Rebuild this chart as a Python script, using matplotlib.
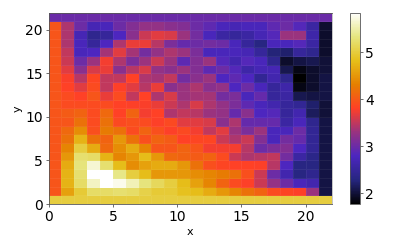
import matplotlib
matplotlib.use("Agg")
import matplotlib.pyplot as plt
import numpy as np

x_edges = list(range(23))
y_edges = list(range(23))

# one list per row of cells, y=0 row first
row_00 = [5.0, 5.0, 5.0, 5.0, 5.0, 5.0, 5.0, 5.0, 5.0, 5.0, 5.0, 5.0, 5.0, 5.0, 5.0, 5.0, 5.0, 5.0, 5.0, 5.0, 5.0, 5.0]
row_01 = [3.97, 4.57, 4.95, 5.2, 5.2, 5.25, 5.2, 5.05, 4.95, 4.95, 4.85, 4.8, 4.65, 4.5, 4.35, 4.2, 4.08, 3.9, 3.85, 3.8, 3.3, 2.05]
row_02 = [3.97, 4.72, 5.2, 5.6, 5.84, 5.75, 5.55, 5.3, 5.15, 5.0, 4.8, 4.57, 4.35, 4.08, 3.9, 3.8, 3.55, 3.25, 3.0, 2.75, 2.65, 2.05]
row_03 = [3.97, 4.72, 5.25, 5.84, 5.84, 5.35, 5.0, 4.8, 4.5, 4.5, 4.5, 4.42, 4.35, 4.27, 4.2, 3.93, 3.55, 3.0, 2.65, 2.3, 2.4, 2.05]
row_04 = [3.97, 4.65, 5.3, 5.65, 5.25, 4.8, 4.42, 4.57, 4.65, 4.65, 4.5, 4.2, 3.93, 3.85, 3.82, 3.82, 3.8, 3.45, 2.8, 2.3, 2.3, 2.05]
row_05 = [3.97, 4.5, 5.25, 5.2, 4.72, 4.35, 4.5, 4.8, 4.5, 4.13, 4.08, 4.02, 4.08, 3.9, 3.55, 3.4, 3.45, 3.5, 3.05, 2.55, 2.35, 2.05]
row_06 = [3.97, 4.35, 5.0, 4.65, 4.13, 4.42, 4.65, 4.35, 3.97, 3.97, 4.08, 3.97, 3.75, 3.75, 3.75, 3.45, 3.0, 3.1, 3.15, 2.8, 2.45, 2.05]
row_07 = [3.97, 4.2, 4.72, 4.2, 4.08, 4.5, 4.2, 3.93, 4.08, 4.02, 3.82, 3.85, 3.85, 3.55, 3.4, 3.55, 3.15, 2.75, 3.05, 2.95, 2.45, 2.05]
row_08 = [3.97, 4.13, 4.42, 3.93, 4.27, 4.2, 3.9, 4.08, 3.93, 3.8, 3.88, 3.75, 3.5, 3.65, 3.3, 3.1, 3.3, 2.75, 2.75, 3.0, 2.45, 2.05]
row_09 = [3.97, 3.97, 4.2, 3.9, 4.2, 3.88, 3.93, 3.9, 3.8, 3.88, 3.65, 3.65, 3.6, 3.2, 3.4, 2.95, 2.95, 2.95, 2.55, 2.75, 2.4, 2.05]
row_10 = [3.97, 4.02, 4.08, 3.9, 4.13, 3.82, 4.08, 3.75, 3.82, 3.4, 3.5, 3.45, 3.3, 3.25, 2.95, 3.2, 2.8, 2.85, 2.5, 2.65, 2.15, 2.0]
row_11 = [3.97, 3.9, 3.9, 3.9, 3.9, 3.82, 3.8, 3.78, 3.7, 3.55, 3.4, 3.6, 3.4, 3.25, 3.1, 2.9, 2.75, 2.65, 2.5, 2.45, 2.2, 2.0]
row_12 = [3.97, 3.9, 3.82, 3.97, 3.7, 3.9, 3.5, 3.82, 3.4, 3.6, 3.3, 3.35, 3.35, 3.05, 3.1, 2.75, 2.95, 2.5, 2.55, 2.1, 2.05, 2.05]
row_13 = [3.97, 3.82, 3.65, 3.9, 3.5, 3.8, 3.65, 3.45, 3.7, 3.2, 3.3, 3.4, 3.2, 3.25, 2.8, 3.0, 2.75, 2.5, 2.6, 1.85, 1.95, 2.05]
row_14 = [3.97, 3.78, 3.45, 3.85, 3.5, 3.5, 3.82, 3.4, 3.35, 3.5, 3.05, 3.2, 3.3, 2.8, 2.9, 2.8, 2.45, 2.65, 2.4, 1.78, 1.95, 2.05]
row_15 = [3.97, 3.65, 3.2, 3.6, 3.7, 3.2, 3.45, 3.6, 3.25, 3.2, 3.3, 3.15, 2.9, 3.0, 2.85, 2.6, 2.7, 2.7, 2.1, 1.85, 1.95, 2.0]
row_16 = [3.97, 3.55, 3.0, 3.3, 3.75, 3.4, 3.1, 3.3, 3.55, 3.3, 2.9, 3.15, 3.3, 2.85, 2.65, 2.85, 2.75, 2.4, 1.95, 2.05, 2.1, 2.0]
row_17 = [3.97, 3.5, 2.75, 2.8, 3.35, 3.65, 3.35, 3.05, 3.25, 3.4, 3.3, 3.1, 2.75, 2.75, 2.75, 2.7, 2.5, 2.25, 2.2, 2.5, 2.4, 1.95]
row_18 = [3.97, 3.4, 2.75, 2.5, 2.8, 3.4, 3.7, 3.7, 3.45, 3.1, 2.95, 3.0, 3.05, 3.0, 2.75, 2.5, 2.3, 2.75, 2.75, 2.85, 2.55, 1.95]
row_19 = [3.97, 3.4, 2.7, 2.4, 2.5, 2.8, 3.2, 3.55, 3.65, 3.6, 3.3, 3.05, 2.75, 2.55, 2.5, 2.55, 2.7, 2.85, 3.3, 3.3, 2.6, 1.95]
row_20 = [3.97, 3.4, 3.0, 2.7, 2.75, 3.0, 3.15, 3.25, 3.25, 3.2, 3.15, 3.0, 2.9, 2.75, 2.7, 2.75, 2.75, 2.9, 3.0, 2.85, 2.55, 1.97]
row_21 = [2.98, 2.98, 2.98, 2.98, 2.98, 2.98, 2.98, 2.98, 2.98, 2.98, 2.98, 2.98, 2.98, 2.98, 2.98, 2.98, 2.98, 2.98, 2.98, 2.98, 2.98, 2.98]

field = np.array([row_00, row_01, row_02, row_03, row_04, row_05, row_06, row_07, row_08, row_09, row_10,
                  row_11, row_12, row_13, row_14, row_15, row_16, row_17, row_18, row_19, row_20, row_21])

fig = plt.figure(figsize=(4.15, 2.49), dpi=100)
ax = fig.add_axes([48.5 / 415, 1 - 204 / 249, (331.5 - 48.5) / 415, (204 - 12.5) / 249])
cax = fig.add_axes([349.5 / 415, 1 - 204 / 249, 10 / 415, (204 - 12.5) / 249])

mesh = ax.pcolormesh(x_edges, y_edges, field, cmap="CMRmap", vmin=1.77, vmax=5.84,
                     edgecolors=(1, 1, 1, 0.06), linewidth=0.4)
ax.set_xlim(0, 22)
ax.set_ylim(0, 22)
ax.set_xticks([0, 5, 10, 15, 20])
ax.set_yticks([0, 5, 10, 15, 20])
ax.tick_params(labelsize=10, length=2, width=0.6, pad=2, color="#555555")
ax.set_xlabel("x", fontsize=8, labelpad=2.5)
ax.set_ylabel("y", fontsize=8, labelpad=2)
for side in ax.spines:
    ax.spines[side].set_linewidth(0.6)
    ax.spines[side].set_color("#555555")
ax.spines["right"].set_color("#bbbbbb")

cb = fig.colorbar(mesh, cax=cax)
cb.set_ticks([2, 3, 4, 5])
cb.ax.tick_params(labelsize=10, length=2, width=0.6, pad=2, color="#555555")
cb.outline.set_linewidth(0.6)
cb.outline.set_edgecolor("#555555")

fig.savefig("out.png", dpi=100)
